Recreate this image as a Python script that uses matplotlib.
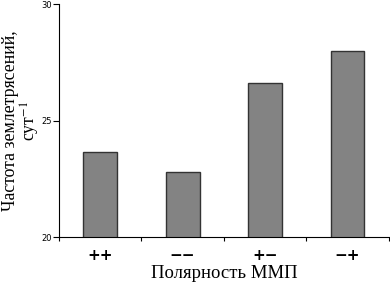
import matplotlib
matplotlib.use("Agg")
import matplotlib.pyplot as plt
import numpy as np

plt.rcParams['mathtext.fontset'] = 'stix'

# polarity categories and earthquake frequency
categories = ['++', '\u2212\u2212', '+\u2212', '\u2212+']
frequency = [23.65, 22.8, 26.6, 28.0]
y_ticks = [20, 25, 30]

fig = plt.figure(figsize=(3.9, 2.88), dpi=100)
ax = fig.add_axes([0.151, 0.177, 0.846, 0.809])

x = np.arange(len(categories))
ax.bar(x, frequency, width=0.41, color='#838383', edgecolor='#333333',
       linewidth=1.0, bottom=0)

ax.set_xlim(-0.5, len(categories) - 0.5)
ax.set_ylim(20, 30)
ax.set_yticks(y_ticks)
ax.set_yticklabels([str(t) for t in y_ticks], fontsize=6)

# ticks at category boundaries, labels at centers
ax.set_xticks(np.arange(len(categories) + 1) - 0.5)
ax.set_xticklabels([])
ax.set_xticks(x, minor=True)
ax.set_xticklabels(categories, minor=True, fontsize=11, fontweight='bold')
ax.tick_params(axis='x', which='minor', length=0, pad=8)
ax.tick_params(axis='x', which='major', length=3, direction='out')
ax.tick_params(axis='y', length=4, direction='out', pad=1)

for s in ['top', 'right']:
    ax.spines[s].set_visible(False)

ax.set_xlabel('Полярность ММП', family='Liberation Serif', fontsize=13.5, labelpad=1)
ax.set_ylabel('Частота землетрясений,\nсут$^{-1}$', family='Liberation Serif',
              fontsize=12.8, linespacing=1.0)
ax.yaxis.set_label_coords(-0.05, 0.5)

fig.savefig('out.png', dpi=100)
